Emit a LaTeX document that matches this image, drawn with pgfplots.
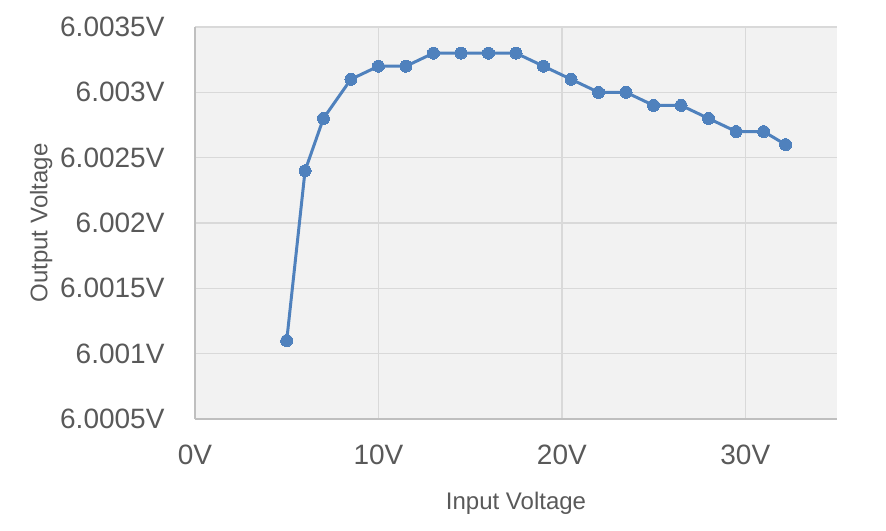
\documentclass[border=0pt]{standalone}
\usepackage{fontspec}
\setmainfont{Liberation Sans}
\usepackage{pgfplots}
\pgfplotsset{compat=1.18}
\definecolor{txt}{HTML}{595959}
\definecolor{grd}{HTML}{D9D9D9}
\definecolor{axl}{HTML}{BFBFBF}
\definecolor{bg}{HTML}{F2F2F2}
\definecolor{ser}{HTML}{4F81BD}
\begin{document}
\begin{tikzpicture}
% y values given as (Vout - 6 V) in units of 0.1 mV
\begin{axis}[
  at={(0,0)}, anchor=south west,
  scale only axis, width=642bp, height=392bp,
  xmin=0, xmax=35, ymin=5, ymax=35,
  xtick={0,10,20,30}, xticklabels={0V,10V,20V,30V},
  ytick={5,10,15,20,25,30,35},
  yticklabels={6.0005V,6.001V,6.0015V,6.002V,6.0025V,6.003V,6.0035V},
  tick style={draw=none},
  axis lines*=left,
  axis line style={draw=axl, line width=1.5bp},
  axis background/.style={fill=bg},
  grid=major, major grid style={draw=grd, line width=1.5bp},
  ticklabel style={font=\fontsize{28bp}{32bp}\selectfont, text=txt},
  yticklabel style={xshift=-27bp},
  xticklabel style={yshift=-22bp},
  xlabel={Input Voltage}, ylabel={Output Voltage},
  label style={font=\fontsize{24bp}{28bp}\selectfont, text=txt},
  xlabel style={yshift=-21bp},
  ylabel style={yshift=1bp},
  clip=false,
]
\addplot[color=ser, line width=3bp, mark=*, mark size=6bp, mark options={fill=ser, draw=ser, line width=0pt}]
coordinates {
(5,11) (6,24) (7,28) (8.5,31) (10,32) (11.5,32) (13,33) (14.5,33)
(16,33) (17.5,33) (19,32) (20.5,31) (22,30) (23.5,30) (25,29) (26.5,29)
(28,28) (29.5,27) (31,27) (32.2,26)
};
\end{axis}
\pgfresetboundingbox
\path[use as bounding box] (-195bp,-112bp) rectangle (691bp,419bp);
\end{tikzpicture}
\end{document}
